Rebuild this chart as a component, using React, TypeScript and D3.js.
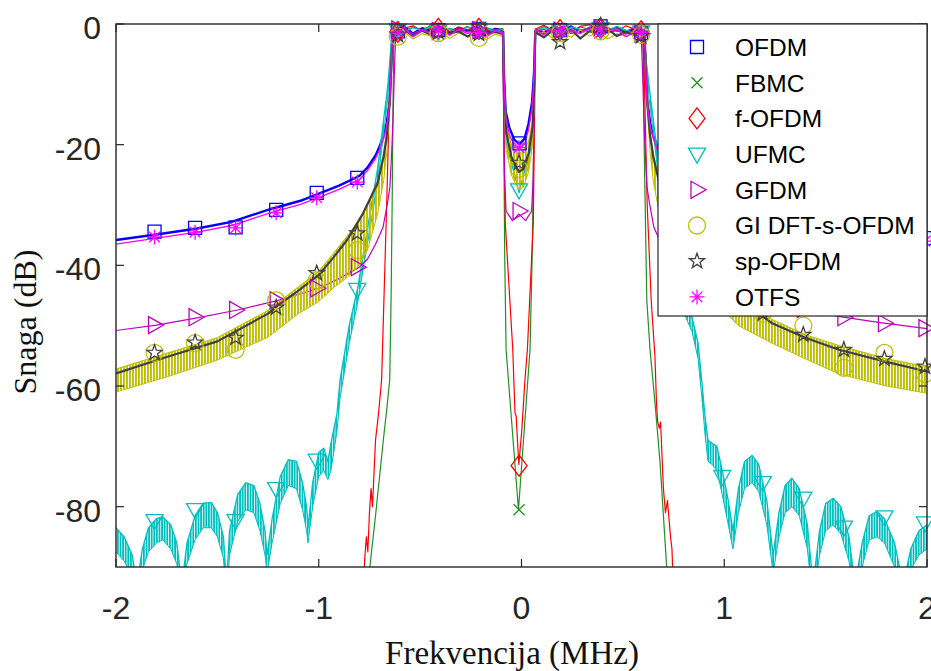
import React from 'react';
import * as d3 from 'd3';

type P = [number, number];
type T = [number, number, number];

const W = 931;
const H = 671;
const M = { left: 116, right: 927, top: 24, bottom: 567 };

const xTicks = [-2, -1, 0, 1, 2];
const yTicks = [0, -20, -40, -60, -80];
const seriesNames = ['OFDM', 'FBMC', 'f-OFDM', 'UFMC', 'GFDM', 'GI DFT-s-OFDM', 'sp-OFDM', 'OTFS'];

// passband frequency grid (MHz)
const passXL = [-0.625, -0.58, -0.535, -0.49, -0.445, -0.40, -0.355, -0.31, -0.265, -0.22, -0.175, -0.13, -0.097];
const passXR = [0.072, 0.11, 0.155, 0.20, 0.245, 0.29, 0.335, 0.38, 0.425, 0.47, 0.515, 0.56, 0.592];

// ---------- OFDM ----------
const ofdmLeft: P[] = [[-2, -35.8], [-1.8, -34.9], [-1.6, -33.9], [-1.43, -32.8], [-1.24, -30.7], [-1.09, -29.3], [-0.99, -28], [-0.9, -26.8], [-0.8, -25.2], [-0.76, -23.8], [-0.72, -21.8], [-0.70, -20.3], [-0.68, -18.5], [-0.665, -16.5], [-0.65, -12.8], [-0.642, -6], [-0.636, -1.2]];
const ofdmPassL = [-1.0, -0.4, -1.6, -0.7, -1.2, -0.3, -1.4, -0.6, -1.1, -0.5, -1.5, -0.8, -1.0];
const ofdmNotch: P[] = [[-0.091, -1.2], [-0.086, -9], [-0.078, -14.5], [-0.06, -17.2], [-0.035, -19.2], [-0.01, -19.9], [0.015, -19], [0.035, -16.5], [0.052, -13], [0.062, -8], [0.068, -1.2]];
const ofdmPassR = [-0.9, -1.5, -0.5, -1.2, -0.4, -1.3, -0.7, -0.2, -1.1, -0.6, -1.4, -0.8, -1.2];
const ofdmRight: P[] = [[0.605, -1.2], [0.612, -6], [0.62, -12.8], [0.635, -16.5], [0.65, -18.5], [0.67, -20.3], [0.69, -21.8], [0.73, -23.8], [0.77, -25.2], [0.87, -26.8], [0.96, -28], [1.06, -29.3], [1.21, -30.7], [1.40, -32.8], [1.57, -33.9], [1.77, -34.9], [2.0, -35.9]];
const ofdmMarks: P[] = [[-1.81, -34.4], [-1.61, -33.8], [-1.41, -33.7], [-1.21, -30.8], [-1.01, -28], [-0.81, -25.5], [-0.61, -1.2], [-0.41, -1.0], [-0.21, -0.8], [-0.01, -19.8], [0.19, -1.0], [0.39, -0.4], [0.59, -1.5], [0.79, -25.5], [0.99, -28.2], [1.19, -30.8], [1.39, -32.8], [1.59, -34], [1.79, -34.8], [1.99, -35.5]];

// ---------- FBMC ----------
const fbmcLeft: P[] = [[-0.76, -96], [-0.748, -90], [-0.72, -81.5], [-0.70, -75], [-0.68, -68.5], [-0.665, -64], [-0.65, -59], [-0.643, -45], [-0.638, -30], [-0.634, -15], [-0.631, -5], [-0.628, -1]];
const fbmcPassL = [-0.6, -1.3, -0.5, -1.0, -0.2, -1.4, -0.7, -1.1, -0.4, -1.2, -0.6, -1.0, -0.8];
const fbmcNotch: P[] = [[-0.091, -0.8], [-0.088, -15], [-0.083, -38], [-0.076, -54], [-0.015, -80.5], [0.042, -54], [0.053, -38], [0.062, -15], [0.068, -0.8]];
const fbmcPassR = [-1.1, -0.4, -1.2, -0.6, -1.3, -0.5, -0.9, -0.3, -1.0, -0.7, -1.2, -0.5, -1.0];
const fbmcRight: P[] = [[0.597, -1], [0.601, -5], [0.605, -20], [0.618, -45.8], [0.634, -54], [0.659, -63], [0.683, -72.5], [0.716, -90], [0.728, -96]];
const fbmcMarks: P[] = [[-0.61, -0.8], [-0.41, -1.1], [-0.21, -0.6], [-0.012, -80.5], [0.19, -0.9], [0.39, -0.7]];

// ---------- f-OFDM ----------
const fofdmLeft: P[] = [[-0.785, -96], [-0.772, -88], [-0.765, -85], [-0.758, -87.5], [-0.75, -81], [-0.742, -77], [-0.735, -80], [-0.72, -69], [-0.705, -64.5], [-0.69, -59], [-0.665, -30], [-0.648, -8], [-0.638, -1.3]];
const fofdmPassL = [-1.4, -0.7, -0.3, -1.2, -0.5, -0.1, -1.3, -0.6, -1.0, -0.2, -0.9, -1.4, -0.8];
const fofdmNotch: P[] = [[-0.092, -1], [-0.088, -14], [-0.080, -33], [-0.043, -54], [-0.032, -64.5], [-0.026, -65], [-0.024, -66.5], [-0.013, -73], [0.001, -67.5], [0.009, -63.3], [0.017, -59], [0.029, -54], [0.058, -33], [0.065, -14], [0.069, -1]];
const fofdmPassR = [-0.8, -0.2, -1.1, -0.5, -1.3, -0.4, -0.1, -1.0, -0.6, -1.2, -0.3, -0.9, -1.3];
const fofdmRight: P[] = [[0.598, -1.3], [0.605, -8], [0.62, -30], [0.64, -46], [0.658, -55], [0.666, -63], [0.672, -66], [0.68, -67], [0.686, -66], [0.70, -77], [0.71, -81], [0.72, -79], [0.735, -85], [0.742, -87], [0.752, -96]];
const fofdmMarks: P[] = [[-0.61, -1.3], [-0.41, -0.8], [-0.21, -0.8], [-0.012, -73.2], [0.19, -1.0], [0.39, -0.7], [0.59, -1.2]];

// ---------- UFMC (x, upper, lower of the ripple) ----------
const ufmcLeft: T[] = [[-2.0, -83.5, -87.5], [-1.96, -85, -89], [-1.92, -88, -91.5], [-1.897, -93, -96], [-1.87, -87, -90.5], [-1.84, -83.5, -87.5], [-1.80, -82, -86], [-1.77, -81.7, -85.5], [-1.73, -83, -87], [-1.70, -86, -89.5], [-1.675, -93, -96], [-1.65, -86, -89.5], [-1.61, -81.5, -85.5], [-1.57, -79.4, -83.5], [-1.53, -79.3, -83.5], [-1.50, -81, -85], [-1.47, -85, -88.5], [-1.455, -93, -96], [-1.44, -84, -88], [-1.40, -78, -82.5], [-1.36, -76, -80.5], [-1.32, -76.5, -81], [-1.29, -79.5, -84], [-1.265, -84, -88], [-1.255, -88, -91], [-1.23, -82, -86], [-1.19, -75, -79.5], [-1.15, -72.2, -76.5], [-1.11, -72.5, -77], [-1.08, -76, -80.5], [-1.06, -80, -84], [-1.053, -83.5, -86], [-1.03, -76, -80], [-1.00, -71, -75], [-0.975, -70.3, -74], [-0.955, -72.5, -75.5], [-0.94, -69.5, -74], [-0.91, -64.5, -67.5], [-0.895, -59, -62], [-0.85, -50, -53], [-0.807, -43.6, -46], [-0.78, -38, -40.5], [-0.71, -24, -26.5], [-0.66, -10.4, -12.5], [-0.642, -3, -3.5], [-0.636, -1, -1]];
const ufmcPassL = [-0.9, -1.4, -0.6, -1.1, -0.4, -1.3, -0.8, -1.5, -0.5, -1.0, -0.7, -1.3, -0.9];
const ufmcNotch: P[] = [[-0.091, -1], [-0.085, -12], [-0.075, -20], [-0.05, -23], [-0.03, -25.5], [-0.012, -28], [0.01, -25], [0.035, -22.5], [0.055, -19], [0.063, -12], [0.068, -1]];
const ufmcPassR = [-1.2, -0.6, -1.0, -1.4, -0.5, -0.9, -1.3, -0.7, -1.1, -0.4, -1.0, -1.5, -0.8];
const ufmcRight: T[] = [[0.598, -1, -1], [0.604, -3, -3.5], [0.63, -10.4, -12.5], [0.68, -24, -26.5], [0.75, -38, -40.5], [0.777, -43.6, -46], [0.841, -48.6, -51], [0.871, -52.9, -55.5], [0.89, -59.5, -62], [0.905, -65, -68], [0.92, -69, -72.5], [0.94, -69.5, -73], [0.964, -70, -74], [0.99, -74, -78], [1.02, -79, -83], [1.043, -84, -87], [1.07, -77, -81], [1.10, -72.5, -77], [1.137, -71.5, -76], [1.17, -73, -77.5], [1.21, -79, -83], [1.241, -88, -91], [1.27, -81, -85], [1.30, -76.5, -81], [1.334, -75.3, -80], [1.37, -77, -81.5], [1.41, -83, -87], [1.438, -93, -96], [1.47, -84, -88], [1.50, -79.5, -84], [1.537, -78.6, -83], [1.575, -80, -84.5], [1.615, -85, -89], [1.645, -93, -96], [1.68, -86, -90], [1.715, -81.5, -85.5], [1.754, -80.8, -85], [1.79, -82, -86], [1.84, -86, -90], [1.882, -93, -96], [1.92, -87, -90.5], [1.96, -84, -88], [2.0, -83, -87]];
const ufmcMarks: P[] = [[-1.81, -82.3], [-1.61, -80.5], [-1.41, -82.3], [-1.21, -77], [-1.01, -72.3], [-0.81, -44], [-0.61, -1.0], [-0.41, -1.2], [-0.21, -0.9], [-0.012, -27.5], [0.19, -1.1], [0.39, -0.8], [0.59, -1.3], [0.79, -44], [0.99, -75], [1.19, -76], [1.39, -78.6], [1.59, -83.4], [1.79, -81.7], [1.99, -82.7]];

// ---------- GFDM ----------
const gfdmLeft: P[] = [[-2, -50.8], [-1.8, -49.9], [-1.6, -48.7], [-1.4, -47.4], [-1.2, -45.8], [-1.0, -43.8], [-0.9, -42.2], [-0.8, -40.3], [-0.76, -39], [-0.72, -36.5], [-0.683, -33.7], [-0.66, -29.5], [-0.649, -27], [-0.64, -21], [-0.634, -16], [-0.628, -9], [-0.624, -4.8], [-0.619, -1.2]];
const gfdmPassL = [-1.2, -0.8, -1.6, -0.9, -1.4, -1.0, -1.7, -0.8, -1.3, -0.7, -1.5, -1.1, -1.3];
const gfdmNotch: P[] = [[-0.094, -1.2], [-0.089, -12], [-0.084, -25], [-0.076, -31], [-0.045, -32.6], [-0.012, -31.5], [0.02, -32.6], [0.05, -31], [0.058, -25], [0.063, -12], [0.067, -1.2]];
const gfdmPassR = [-1.3, -0.9, -1.5, -0.8, -1.6, -1.0, -1.2, -0.6, -1.4, -1.1, -1.7, -0.9, -1.5];
const gfdmRight: P[] = [[0.589, -1.2], [0.594, -4.8], [0.598, -9], [0.604, -16], [0.61, -21], [0.619, -27], [0.63, -29.5], [0.653, -33.7], [0.69, -36.5], [0.73, -39], [0.77, -40.3], [0.87, -42.2], [0.97, -43.8], [1.17, -45.8], [1.37, -47.3], [1.57, -48.5], [1.77, -49.5], [2.0, -50.5]];
const gfdmMarks: P[] = [[-1.81, -49.9], [-1.61, -48.6], [-1.41, -47.4], [-1.21, -45.8], [-1.01, -43.8], [-0.81, -40.3], [-0.61, -0.9], [-0.41, -1.2], [-0.21, -1.0], [-0.012, -31], [0.19, -1.1], [0.39, -0.9], [0.59, -1.6], [0.79, -40], [0.99, -43.6], [1.19, -45.6], [1.39, -47.2], [1.59, -48.6], [1.79, -49.6], [1.99, -50.4]];

// ---------- GI DFT-s-OFDM (x, upper, lower of the ripple) ----------
const giLeft: T[] = [[-2, -57.2, -61], [-1.75, -54.6, -58.5], [-1.5, -52, -55.7], [-1.25, -47.5, -51.9], [-1.1, -43.6, -48], [-1.0, -41, -46], [-0.93, -38.2, -43.8], [-0.86, -35.2, -42], [-0.8, -32.5, -40], [-0.76, -30, -37.5], [-0.71, -26, -31.5], [-0.68, -21.5, -26], [-0.665, -18, -21.4], [-0.65, -12, -14], [-0.64, -4, -6], [-0.632, -1.2, -1.5]];
const giPassL = [-2.2, -1.3, -2.5, -1.6, -2.0, -1.2, -2.4, -1.5, -2.1, -1.4, -2.6, -1.7, -2.0];
const giNotch: T[] = [[-0.091, -1, -1.5], [-0.085, -10, -13], [-0.075, -17, -21], [-0.05, -20, -25], [-0.03, -21, -26.5], [-0.012, -21.5, -27.5], [0.01, -21, -27], [0.035, -19.5, -24.5], [0.055, -16, -20], [0.063, -9, -12], [0.068, -1, -1.5]];
const giPassR = [-1.9, -1.3, -2.4, -1.5, -2.2, -1.0, -2.0, -1.4, -2.5, -1.6, -2.1, -1.2, -2.3];
const giRight: T[] = [[0.602, -1.2, -1.5], [0.61, -4, -6], [0.62, -12, -14], [0.635, -18, -21.4], [0.65, -21.5, -26], [0.68, -26, -31.5], [0.73, -30, -37.5], [0.77, -32.5, -40], [0.83, -35.2, -42], [0.9, -38.2, -44], [0.97, -41.5, -46.5], [1.07, -45, -50], [1.236, -49, -52.9], [1.4, -51.5, -55.5], [1.566, -53.3, -58], [1.8, -55.5, -60], [2.0, -56.8, -61.2]];
const giMarks: P[] = [[-1.81, -54.5], [-1.61, -52.9], [-1.41, -54], [-1.21, -45.8], [-1.01, -42.5], [-0.81, -37.5], [-0.61, -2.1], [-0.41, -1.5], [-0.21, -2.3], [-0.012, -24], [0.19, -1.5], [0.39, -1.2], [0.59, -1.8], [0.79, -36], [0.99, -44], [1.19, -48], [1.39, -50], [1.59, -57], [1.79, -54.5], [1.99, -58]];

// ---------- sp-OFDM ----------
const spLeft: P[] = [[-2, -57.9], [-1.75, -55.2], [-1.5, -52.6], [-1.25, -48], [-1.2, -46.6], [-1.1, -44.2], [-1.0, -41.6], [-0.93, -38.8], [-0.86, -35.8], [-0.78, -31.3], [-0.71, -26.4], [-0.68, -22], [-0.665, -18.7], [-0.65, -13], [-0.64, -5], [-0.632, -1.5]];
const spPassL = [-1.5, -0.9, -2.0, -1.1, -1.8, -0.8, -1.6, -1.2, -2.1, -1.0, -1.7, -1.3, -1.6];
const spNotch: P[] = [[-0.091, -1.3], [-0.085, -11], [-0.075, -18], [-0.05, -22], [-0.03, -23.5], [-0.012, -24.5], [0.01, -24], [0.035, -21.5], [0.055, -17], [0.063, -10], [0.068, -1.3]];
const spPassR = [-1.4, -2.2, -1.0, -1.8, -0.9, -2.4, -1.2, -1.6, -0.8, -2.0, -1.3, -1.9, -1.5];
const spRight: P[] = [[0.602, -1.5], [0.61, -5], [0.62, -13], [0.635, -18.7], [0.65, -22], [0.68, -26.4], [0.75, -31.3], [0.83, -35.8], [0.9, -38.8], [0.97, -41.6], [1.07, -45.5], [1.236, -49.6], [1.4, -52], [1.566, -54], [1.8, -56], [2.0, -57.6]];
const spMarks: P[] = [[-1.81, -54.5], [-1.61, -52.8], [-1.41, -52], [-1.21, -47], [-1.01, -41.3], [-0.81, -34.7], [-0.61, -1.8], [-0.41, -1.3], [-0.21, -1.6], [-0.012, -23], [0.19, -3], [0.39, -0.3], [0.59, -2], [0.79, -34.5], [0.99, -42], [1.19, -48], [1.39, -51.5], [1.59, -54], [1.79, -55.5], [1.99, -56.8]];

// ---------- OTFS ----------
const otfsLeft: P[] = [[-2, -36.5], [-1.8, -35.5], [-1.6, -34.5], [-1.43, -33.4], [-1.24, -31.3], [-1.09, -29.9], [-0.99, -28.6], [-0.9, -27.4], [-0.8, -25.8], [-0.76, -24.3], [-0.72, -22.3], [-0.70, -20.8], [-0.68, -19], [-0.665, -17], [-0.65, -13.3], [-0.642, -6.5], [-0.636, -1.5]];
const otfsPassL = [-1.4, -0.6, -2.1, -1.0, -1.7, -0.5, -1.9, -0.9, -1.6, -0.7, -2.2, -1.1, -1.5];
const otfsNotch: P[] = [[-0.091, -1.4], [-0.086, -9.5], [-0.078, -15.5], [-0.06, -18.3], [-0.035, -20.2], [-0.01, -20.8], [0.015, -19.9], [0.035, -17.5], [0.052, -13.8], [0.062, -8.5], [0.068, -1.4]];
const otfsPassR = [-1.0, -1.8, -0.6, -2.0, -1.1, -1.6, -0.5, -1.9, -1.2, -0.8, -2.1, -1.3, -1.7];
const otfsRight: P[] = [[0.605, -1.5], [0.612, -6.5], [0.62, -13.3], [0.635, -17], [0.65, -19], [0.67, -20.8], [0.69, -22.3], [0.73, -24.3], [0.77, -25.8], [0.87, -27.4], [0.96, -28.6], [1.06, -29.9], [1.21, -31.3], [1.40, -33.4], [1.57, -34.5], [1.77, -35.5], [2.0, -36.4]];
const otfsMarks: P[] = [[-1.81, -35.3], [-1.61, -34.5], [-1.41, -33.8], [-1.21, -31.3], [-1.01, -28.8], [-0.81, -26.2], [-0.61, -1.5], [-0.41, -1.0], [-0.21, -1.4], [-0.012, -20.5], [0.19, -1.2], [0.39, -0.9], [0.59, -1.4], [0.79, -26], [0.99, -28.5], [1.19, -31], [1.39, -33], [1.59, -34.3], [1.79, -35.2], [1.99, -36]];

const zip = (xs: number[], ys: number[]): P[] => xs.map((x, i) => [x, ys[i]] as P);
const up = (a: T[]): P[] => a.map((d) => [d[0], d[1]] as P);
const lo = (a: T[]): P[] => a.map((d) => [d[0], d[2]] as P);

type Series = {
  name: string;
  color: string;
  marker: string;
  width: number;
  pts: P[];
  marks: P[];
  bands?: T[][];
  lowers?: P[][];
  hatch?: string;
};

const series: Series[] = [
  { name: seriesNames[0], color: '#0000FF', marker: 'square', width: 2.4, pts: [...ofdmLeft, ...zip(passXL, ofdmPassL), ...ofdmNotch, ...zip(passXR, ofdmPassR), ...ofdmRight], marks: ofdmMarks },
  { name: seriesNames[1], color: '#1F921F', marker: 'x', width: 1.2, pts: [...fbmcLeft, ...zip(passXL, fbmcPassL), ...fbmcNotch, ...zip(passXR, fbmcPassR), ...fbmcRight], marks: fbmcMarks },
  { name: seriesNames[2], color: '#FF0000', marker: 'diamond', width: 1.2, pts: [...fofdmLeft, ...zip(passXL, fofdmPassL), ...fofdmNotch, ...zip(passXR, fofdmPassR), ...fofdmRight], marks: fofdmMarks },
  { name: seriesNames[3], color: '#00BFBF', marker: 'tdown', width: 1.3, pts: [...up(ufmcLeft), ...zip(passXL, ufmcPassL), ...ufmcNotch, ...zip(passXR, ufmcPassR), ...up(ufmcRight)], marks: ufmcMarks, bands: [ufmcLeft, ufmcRight], lowers: [lo(ufmcLeft), lo(ufmcRight)], hatch: 'hatchC' },
  { name: seriesNames[4], color: '#BF00BF', marker: 'tright', width: 1.2, pts: [...gfdmLeft, ...zip(passXL, gfdmPassL), ...gfdmNotch, ...zip(passXR, gfdmPassR), ...gfdmRight], marks: gfdmMarks },
  { name: seriesNames[5], color: '#BFBF00', marker: 'circle', width: 1.2, pts: [...up(giLeft), ...zip(passXL, giPassL), ...up(giNotch), ...zip(passXR, giPassR), ...up(giRight)], marks: giMarks, bands: [giLeft, giNotch, giRight], lowers: [lo(giLeft), lo(giNotch), lo(giRight)], hatch: 'hatchY' },
  { name: seriesNames[6], color: '#404040', marker: 'star', width: 2.2, pts: [...spLeft, ...zip(passXL, spPassL), ...spNotch, ...zip(passXR, spPassR), ...spRight], marks: spMarks },
  { name: seriesNames[7], color: '#FF00FF', marker: 'asterisk', width: 1.3, pts: [...otfsLeft, ...zip(passXL, otfsPassL), ...otfsNotch, ...zip(passXR, otfsPassR), ...otfsRight], marks: otfsMarks },
];

function starPath(ro: number, ri: number): string {
  const pts: string[] = [];
  for (let i = 0; i < 10; i++) {
    const r = i % 2 === 0 ? ro : ri;
    const a = -Math.PI / 2 + (i * Math.PI) / 5;
    pts.push(`${(r * Math.cos(a)).toFixed(2)},${(r * Math.sin(a)).toFixed(2)}`);
  }
  return 'M' + pts.join('L') + 'Z';
}

const markerPaths: Record<string, string> = {
  square: 'M-6.5,-6.5H6.5V6.5H-6.5Z',
  x: 'M-5.5,-5.5L5.5,5.5M-5.5,5.5L5.5,-5.5',
  diamond: 'M0,-10.5L8,0L0,10.5L-8,0Z',
  tdown: 'M-8.5,-6L8.5,-6L0,9Z',
  tright: 'M-6,-8.5L-6,8.5L9,0Z',
  circle: 'M-8.5,0A8.5,8.5 0 1,0 8.5,0A8.5,8.5 0 1,0 -8.5,0Z',
  star: starPath(8, 3.2),
  asterisk: 'M0,-7.5V7.5M-7.5,0H7.5M-5.3,-5.3L5.3,5.3M-5.3,5.3L5.3,-5.3',
};

export default function App() {
  const x = d3.scaleLinear().domain([-2, 2]).range([M.left, M.right]);
  const y = d3.scaleLinear().domain([-90, 0]).range([M.bottom, M.top]);
  const line = d3.line<P>().x((d) => x(d[0])).y((d) => y(d[1]));
  const area = d3.area<T>().x((d) => x(d[0])).y0((d) => y(d[2])).y1((d) => y(d[1]));
  const axisColor = '#262626';
  const tickLen = 8;
  const legendRows = series.map((s, i) => ({ s, y: 47 + i * 35.7 }));

  return (
    <svg width={W} height={H} style={{ position: 'absolute', left: 0, top: 0, display: 'block', background: '#fff' }}>
      <defs>
        <clipPath id="plotClip">
          <rect x={M.left} y={M.top} width={M.right - M.left} height={M.bottom - M.top} />
        </clipPath>
        <pattern id="hatchY" width="3" height="10" patternUnits="userSpaceOnUse">
          <rect width="1.9" height="10" fill="#BFBF00" />
        </pattern>
        <pattern id="hatchC" width="2.6" height="10" patternUnits="userSpaceOnUse">
          <rect width="1.8" height="10" fill="#00BFBF" />
        </pattern>
      </defs>

      <g clipPath="url(#plotClip)">
        {series.map((s) => (
          <g key={s.name}>
            {s.bands && s.bands.map((b, i) => <path key={'a' + i} d={area(b) || ''} fill={`url(#${s.hatch})`} stroke="none" />)}
            {s.lowers && s.lowers.map((b, i) => <path key={'l' + i} d={line(b) || ''} fill="none" stroke={s.color} strokeWidth={1} />)}
            <path d={line(s.pts) || ''} fill="none" stroke={s.color} strokeWidth={s.width} strokeLinejoin="round" />
          </g>
        ))}
      </g>

      {series.map((s) => (
        <g key={'m' + s.name}>
          {s.marks.filter((d) => d[1] >= -90 && d[1] <= 0 && d[0] >= -2 && d[0] <= 2).map((d, i) => (
            <path key={i} d={markerPaths[s.marker]} transform={`translate(${x(d[0])},${y(d[1])})`} fill="none" stroke={s.color} strokeWidth={1.3} />
          ))}
        </g>
      ))}

      {/* axes box */}
      <rect x={M.left} y={M.top} width={M.right - M.left} height={M.bottom - M.top} fill="none" stroke={axisColor} strokeWidth={1.4} />
      {xTicks.map((t) => (
        <g key={'xt' + t}>
          <line x1={x(t)} x2={x(t)} y1={M.bottom} y2={M.bottom - tickLen} stroke={axisColor} strokeWidth={1.2} />
          <line x1={x(t)} x2={x(t)} y1={M.top} y2={M.top + tickLen} stroke={axisColor} strokeWidth={1.2} />
          <text x={x(t)} y={619} textAnchor="middle" fontFamily="Arial, 'Liberation Sans', sans-serif" fontSize={32} fill={axisColor}>{t}</text>
        </g>
      ))}
      {yTicks.map((t) => (
        <g key={'yt' + t}>
          <line x1={M.left} x2={M.left + tickLen} y1={y(t)} y2={y(t)} stroke={axisColor} strokeWidth={1.2} />
          <line x1={M.right} x2={M.right - tickLen} y1={y(t)} y2={y(t)} stroke={axisColor} strokeWidth={1.2} />
          <text x={101} y={y(t) + 15} textAnchor="end" fontFamily="Arial, 'Liberation Sans', sans-serif" fontSize={32} fill={axisColor}>{t}</text>
        </g>
      ))}

      <text x={512} y={664} textAnchor="middle" fontFamily="'Times New Roman', 'Liberation Serif', serif" fontSize={33} fill="#111">Frekvencija (MHz)</text>
      <text transform="translate(36,322) rotate(-90)" textAnchor="middle" fontFamily="'Times New Roman', 'Liberation Serif', serif" fontSize={32} fill="#111">Snaga (dB)</text>

      {/* legend */}
      <rect x={658} y={24} width={269} height={292} fill="#fff" stroke={axisColor} strokeWidth={1.2} />
      {legendRows.map(({ s, y: ly }) => (
        <g key={'lg' + s.name}>
          <path d={markerPaths[s.marker]} transform={`translate(697,${ly})`} fill="none" stroke={s.color} strokeWidth={1.3} />
          <text x={735} y={ly + 8.8} fontFamily="Arial, 'Liberation Sans', sans-serif" fontSize={24.5} fill="#000">{s.name}</text>
        </g>
      ))}
    </svg>
  );
}
